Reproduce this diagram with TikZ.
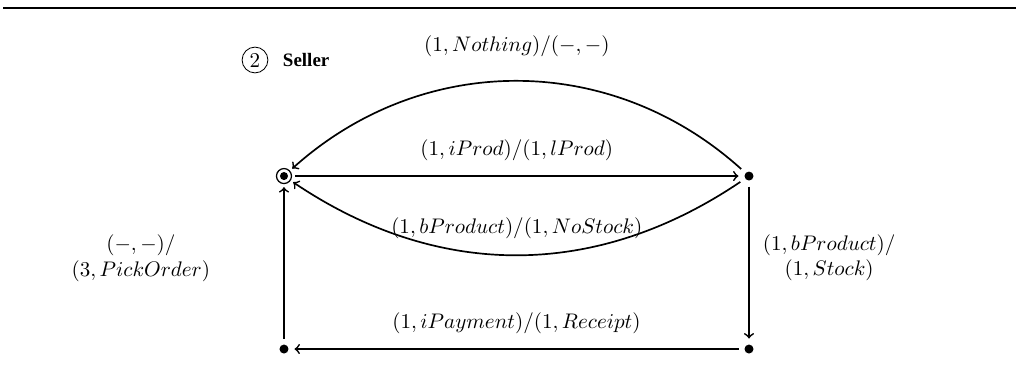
\documentclass[tikz,border=0pt]{standalone}
\usepackage{fontspec}
\newfontfamily\namefont{Liberation Serif}
\usetikzlibrary{automata, positioning}

\begin{document}
\begin{tikzpicture}

        % Setup the styles for the states
        \tikzset{dot style/.style={circle, fill,
                                   inner sep=0pt,
                                   minimum size=1.5mm,
                                   outer sep=1mm
                                   },
                 final style/.style={circle, draw,
                                     line width=.6pt,
                                     inner sep=0pt,
                                     minimum size=2.5mm,
                                     outer sep=.6mm,
                                     path picture={\fill (path picture bounding box.center) circle (.067);}
                                     }}

        \useasboundingbox (0, 0) rectangle (16.933, 6.267);
        \draw[line width=.8pt] (0.05, 6.128) -- (16.933, 6.128);

        % Draw the process name
        \node[circle, draw, inner sep=0pt, minimum size=4.3mm] at (4.25, 5.267) (Number) {2};
        \node[right=.12cm of Number, font=\namefont\bfseries\small] (Seller) {Seller};

        % Draw the states
        \node[final style] at (4.733, 3.333) (Idle)      {};
        \node[dot style]   at (12.483, 3.333) (Asked)    {};
        \node[dot style]   at (12.483, 0.45)  (Stocked)  {};
        \node[dot style]   at (4.733, 0.45)   (Paid)     {};

        % Connect the states with arrows
        \draw[thick, ->, >=to]
            (Idle)    edge                 node[above=1.2mm] {$(1, iProd)/(1, lProd)$} (Asked)
            (Asked)   edge[bend right=42]  node[above=2.7mm] {$(1, Nothing)/(-,-)$} (Idle)
            (Asked)   edge[bend left=34]   node[above=1.5mm] {$(1, bProduct)/(1, NoStock)$} (Idle)
            (Asked)   edge                 node[right=1mm, pos=.47, align=center] {$(1, bProduct)/$\\$(1, Stock)$} (Stocked)
            (Stocked) edge                 node[above=1.2mm] {$(1, iPayment)/(1, Receipt)$} (Paid)
            (Paid)    edge                 node[left=1.1cm, pos=.53, align=center] {$(-,-)/$\\$(3, PickOrder)$} (Idle);
      \end{tikzpicture}
\end{document}
